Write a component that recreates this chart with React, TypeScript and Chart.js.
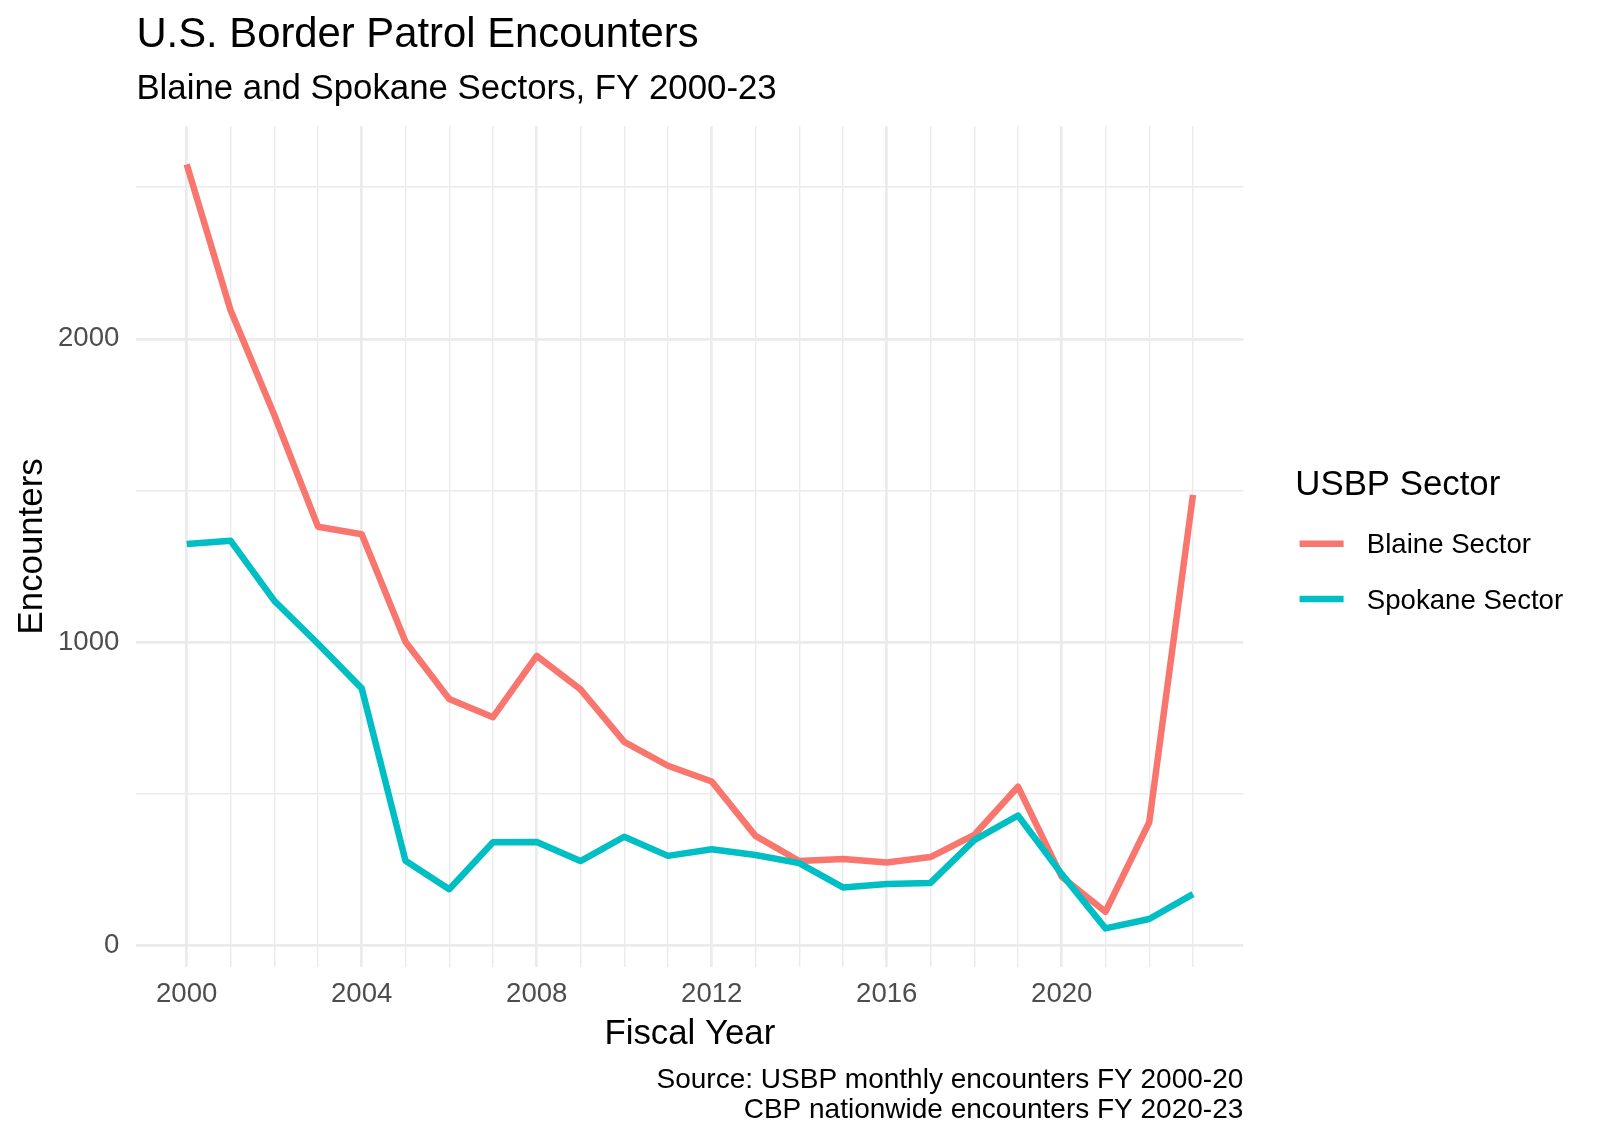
import React, { useEffect, useRef } from 'react';
import { Chart, registerables } from 'chart.js';

Chart.register(...registerables);

const FONT = '"Liberation Sans", Arial, Helvetica, sans-serif';

// ---- data ----
const years = [2000, 2001, 2002, 2003, 2004, 2005, 2006, 2007, 2008, 2009, 2010, 2011, 2012, 2013, 2014, 2015, 2016, 2017, 2018, 2019, 2020, 2021, 2022, 2023];
const blaine = [2575, 2095, 1750, 1381, 1356, 1002, 813, 753, 955, 845, 672, 593, 541, 362, 279, 286, 274, 292, 365, 524, 227, 112, 407, 1486];
const spokane = [1324, 1335, 1137, 995, 848, 280, 186, 341, 342, 279, 359, 296, 318, 299, 272, 192, 203, 207, 348, 429, 236, 57, 88, 170];
const seriesNames = ['Blaine Sector', 'Spokane Sector'];
const seriesColors = ['#F8766D', '#00BFC4'];
const xMajorBreaks = [2000, 2004, 2008, 2012, 2016, 2020];
const xMinorBreaks = years;
const yBreaks = [0, 500, 1000, 1500, 2000, 2500];
const yMajorBreaks = [0, 1000, 2000];
const titleText = 'U.S. Border Patrol Encounters';
const subtitleText = 'Blaine and Spokane Sectors, FY 2000-23';
const xTitle = 'Fiscal Year';
const yTitle = 'Encounters';
const legendTitle = 'USBP Sector';
const captionLines = ['Source: USBP monthly encounters FY 2000-20', 'CBP nationwide encounters FY 2020-23'];

const W = 1600;
const H = 1143;

const ggTextPlugin = {
  id: 'ggText',
  afterDraw(chart: any) {
    const { ctx, chartArea } = chart;
    const { left, right, top, bottom } = chartArea;
    ctx.save();
    ctx.fillStyle = '#000000';
    ctx.textBaseline = 'alphabetic';
    ctx.textAlign = 'left';
    ctx.font = `41.8px ${FONT}`;
    ctx.fillText(titleText, left, top - 79.5);
    ctx.font = `34.8px ${FONT}`;
    ctx.fillText(subtitleText, left, top - 27.2);

    ctx.textAlign = 'right';
    ctx.font = `28px ${FONT}`;
    captionLines.forEach((line, i) => ctx.fillText(line, right, bottom + 121.7 + i * 30));

    // legend
    const cy = (top + bottom) / 2;
    const lx = right + 52;
    ctx.textAlign = 'left';
    ctx.font = `34.8px ${FONT}`;
    ctx.fillText(legendTitle, lx, cy - 51.4);
    ctx.font = `27.6px ${FONT}`;
    chart.data.datasets.forEach((ds: any, i: number) => {
      const y = cy - 2.7 + i * 55.3;
      ctx.strokeStyle = ds.borderColor;
      ctx.lineWidth = 6.5;
      ctx.lineCap = 'butt';
      ctx.beginPath();
      ctx.moveTo(lx + 4.3, y);
      ctx.lineTo(lx + 48.3, y);
      ctx.stroke();
      ctx.fillStyle = '#000000';
      ctx.fillText(ds.label, lx + 71.5, y + 9.7);
    });
    ctx.restore();
  },
};

export default function App() {
  const ref = useRef<HTMLCanvasElement | null>(null);

  useEffect(() => {
    document.body.style.margin = '0';
    if (!ref.current) return;
    const all = [...blaine, ...spokane];
    const yLo = Math.min(...all);
    const yHi = Math.max(...all);
    const yPad = (yHi - yLo) * 0.05;
    const xLo = Math.min(...years);
    const xHi = Math.max(...years);
    const xPad = (xHi - xLo) * 0.05;

    const series = [blaine, spokane];
    const chart = new Chart(ref.current, {
      type: 'line',
      data: {
        datasets: series.map((vals, s) => ({
          label: seriesNames[s],
          data: years.map((yr, i) => ({ x: yr, y: vals[i] })),
          borderColor: seriesColors[s],
          backgroundColor: seriesColors[s],
          borderWidth: 6.5,
          pointRadius: 0,
          pointHoverRadius: 0,
          tension: 0,
          fill: false,
          borderCapStyle: 'butt',
          borderJoinStyle: 'round',
          order: series.length - s,
        })),
      },
      options: {
        responsive: false,
        animation: false,
        devicePixelRatio: 1,
        layout: { padding: { top: 126.2, right: W - 1243.3, bottom: 0, left: 0 } },
        plugins: {
          legend: { display: false },
          title: { display: false },
          tooltip: { enabled: false },
        },
        scales: {
          x: {
            type: 'linear',
            min: xLo - xPad,
            max: xHi + xPad,
            afterBuildTicks: (scale: any) => {
              scale.ticks = xMinorBreaks.map((v) => ({ value: v }));
            },
            afterFit: (scale: any) => {
              scale.height = H - 966.6;
            },
            grid: {
              color: '#EBEBEB',
              drawTicks: false,
              lineWidth: (c: any) => (c.tick && xMajorBreaks.includes(c.tick.value) ? 2.7 : 1.4),
            },
            border: { display: false },
            ticks: {
              autoSkip: false,
              maxRotation: 0,
              minRotation: 0,
              padding: 11.5,
              color: '#4D4D4D',
              font: { family: FONT, size: 27.6 },
              callback: (v: any) => (xMajorBreaks.includes(Number(v)) ? String(v) : ''),
            },
            title: {
              display: true,
              text: xTitle,
              color: '#000000',
              font: { family: FONT, size: 34.8 },
              padding: { top: 0, bottom: 88 },
            },
          },
          y: {
            type: 'linear',
            min: yLo - yPad,
            max: yHi + yPad,
            afterBuildTicks: (scale: any) => {
              scale.ticks = yBreaks.map((v) => ({ value: v }));
            },
            afterFit: (scale: any) => {
              scale.width = 136.4;
            },
            grid: {
              color: '#EBEBEB',
              drawTicks: false,
              lineWidth: (c: any) => (c.tick && yMajorBreaks.includes(c.tick.value) ? 2.7 : 1.4),
            },
            border: { display: false },
            ticks: {
              autoSkip: false,
              padding: 17,
              color: '#4D4D4D',
              font: { family: FONT, size: 27.6 },
              callback: (v: any) => (yMajorBreaks.includes(Number(v)) ? String(v) : ''),
            },
            title: {
              display: true,
              text: yTitle,
              color: '#000000',
              font: { family: FONT, size: 34.8 },
              padding: { top: 12, bottom: 0 },
            },
          },
        },
      },
      plugins: [ggTextPlugin],
    });
    return () => chart.destroy();
  }, []);

  return (
    <div style={{ width: W, height: H, position: 'relative', background: '#ffffff' }}>
      <canvas ref={ref} width={W} height={H} style={{ display: 'block', width: W, height: H }} />
    </div>
  );
}
